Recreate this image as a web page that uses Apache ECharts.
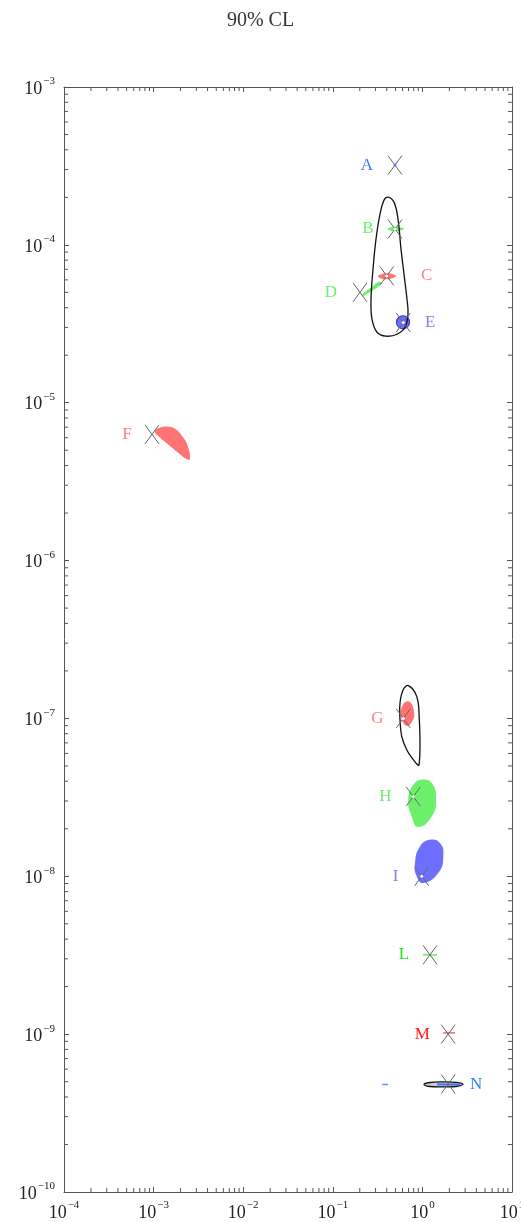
<!DOCTYPE html>
<html>
<head>
<meta charset="utf-8">
<script src="https://cdn.jsdelivr.net/npm/echarts@6/dist/echarts.min.js"></script>
<style>html,body{margin:0;padding:0;background:#fff}#c{width:521px;height:1222px}</style>
</head>
<body>
<div id="c"></div>
<script>
// ---- axis ranges / tick decades ----
const xRange = [1e-4, 10];
const yRange = [1e-10, 1e-3];
const titleText = '90% CL';

// ---- best-fit points (X markers) ----
const pointNames = ['A','B','C','D','E','F','G','H','I','L','M','N'];
const pointX = [0.494, 0.4945, 0.40, 0.201, 0.612, 9.6e-4, 0.612, 0.791, 0.982, 1.216, 1.94, 1.94];
const pointY = [3.2e-4, 1.26e-4, 6.36e-5, 5.0e-5, 3.22e-5, 6.3e-6, 1.0e-7, 3.2e-8, 1.0e-8, 3.18e-9, 1.0e-9, 4.83e-10];

// ---- black contours ----
const contourBE = [[0.4131,2.007e-4],[0.4819,1.865e-4],[0.5342,1.455e-4],[0.5770,9.39e-5],[0.6232,6.52e-5],[0.6731,4.52e-5],[0.6907,3.635e-5],[0.6394,3.006e-5],[0.5206,2.714e-5],[0.3924,2.64e-5],[0.3114,2.795e-5],[0.2738,3.38e-5],[0.2669,4.52e-5],[0.2810,7.01e-5],[0.3035,1.087e-4],[0.3363,1.565e-4],[0.3727,1.921e-4]];
const contourG = [[0.6960,1.614e-7],[0.8638,1.380e-7],[0.9235,9.83e-8],[0.9402,6.65e-8],[0.9235,5.22e-8],[0.9000,5.04e-8],[0.7913,5.48e-8],[0.6680,6.34e-8],[0.5875,7.70e-8],[0.5623,9.83e-8],[0.5623,1.253e-7],[0.6120,1.523e-7]];
const contourN = [[1.042,4.80e-10],[1.216,4.94e-10],[1.698,4.98e-10],[2.371,4.95e-10],[2.839,4.81e-10],[2.371,4.66e-10],[1.698,4.63e-10],[1.216,4.66e-10]];

// ---- filled regions ----
const regionB = [[0.4026,1.258e-4],[0.4462,1.295e-4],[0.4945,1.304e-4],[0.5623,1.295e-4],[0.6232,1.267e-4],[0.5623,1.230e-4],[0.4945,1.222e-4],[0.4462,1.230e-4]];
const regionC = [[0.3195,6.33e-5],[0.3633,6.57e-5],[0.4131,6.61e-5],[0.4697,6.52e-5],[0.5075,6.33e-5],[0.4578,6.15e-5],[0.4026,6.06e-5],[0.3541,6.10e-5]];
const regionD = [[0.2118,4.80e-5],[0.2347,5.09e-5],[0.2738,5.43e-5],[0.3195,5.80e-5],[0.3450,5.80e-5],[0.3363,5.59e-5],[0.2884,5.20e-5],[0.2409,4.90e-5],[0.2173,4.73e-5]];
const regionE = [[0.7178,3.235e-5],[0.6836,3.46e-5],[0.6074,3.556e-5],[0.5396,3.46e-5],[0.5140,3.235e-5],[0.5396,3.024e-5],[0.6074,2.94e-5],[0.6836,3.024e-5]];
const regionF = [[1.036e-3,6.62e-6],[1.340e-3,7.06e-6],[1.733e-3,6.85e-6],[2.146e-3,6.01e-6],[2.439e-3,5.19e-6],[2.548e-3,4.38e-6],[2.299e-3,4.42e-6],[1.970e-3,4.71e-6],[1.524e-3,5.31e-6],[1.178e-3,6.01e-6]];
const regionG = [[0.7086,1.278e-7],[0.8058,1.104e-7],[0.7654,9.54e-8],[0.6561,9.00e-8],[0.5770,1.042e-7],[0.6074,1.223e-7]];
const regionH = [[0.9822,4.09e-8],[1.270,3.90e-8],[1.418,3.06e-8],[1.270,2.39e-8],[0.9000,2.05e-8],[0.7596,2.39e-8],[0.6960,3.06e-8],[0.7913,3.80e-8]];
const regionI = [[1.216,1.703e-8],[1.572,1.623e-8],[1.712,1.335e-8],[1.505,1.048e-8],[1.023,9.07e-9],[0.8638,9.97e-9],[0.8267,1.212e-8],[0.9402,1.545e-8]];

// ---- short horizontal segments [x1, x2, y] ----
const segL = [1.016, 1.455, 3.18e-9];
const segM = [1.698, 2.311, 1.018e-9];
const segN = [1.455, 2.628, 4.80e-10];
const segDash = [0.354, 0.413, 4.80e-10];

// ---- styles ----
const FONT = '"Liberation Serif", "DejaVu Serif", serif';
const RED = '#ff7373', GREEN = '#6cf06c', BLUE = '#6f6fff';
const labelStyle = {
  A:{c:'#3a7bff',dx:-28}, B:{c:'#6cf06c',dx:-27}, C:{c:'#ff8080',dx:40}, D:{c:'#6cf06c',dx:-29},
  E:{c:'#7f7fff',dx:27}, F:{c:'#ff8080',dx:-25}, G:{c:'#ff8080',dx:-26}, H:{c:'#6cf06c',dx:-28},
  I:{c:'#7f7fff',dx:-26}, L:{c:'#22dd22',dx:-26}, M:{c:'#ff1a1a',dx:-26}, N:{c:'#2a7fff',dx:28}
};
const centerDot = {A:'#3a7bff', B:'#ffffff', C:'#ffffff', E:'#ffffff', G:'#ffffff', H:'#ffffff', I:'#ffffff'};

function polySeries(points, style, smooth) {
  return {
    type:'custom', coordinateSystem:'cartesian2d', clip:false, silent:true,
    data: points,
    renderItem: function(params, api){
      if (params.dataIndex !== 0) return null;
      return {type:'polygon', shape:{points: points.map(p => api.coord(p)), smooth: smooth}, style: style};
    }
  };
}
function segSeries(seg, color, w) {
  return {
    type:'custom', coordinateSystem:'cartesian2d', clip:false, silent:true,
    data: [[seg[0], seg[2]], [seg[1], seg[2]]],
    renderItem: function(params, api){
      if (params.dataIndex !== 0) return null;
      const a = api.coord([seg[0], seg[2]]), b = api.coord([seg[1], seg[2]]);
      return {type:'line', shape:{x1:a[0],y1:a[1],x2:b[0],y2:b[1]}, style:{stroke:color, lineWidth:w}};
    }
  };
}

// minor tick values (axis structure)
function minorVals(lo, hi) {
  const out = [];
  for (let d = Math.round(Math.log10(lo)); d < Math.round(Math.log10(hi)); d++) {
    for (let m = 2; m <= 9; m++) out.push(m * Math.pow(10, d));
  }
  return out;
}
const xMinor = minorVals(xRange[0], xRange[1]);
const yMinor = minorVals(yRange[0], yRange[1]);

const tickSeries = {
  type:'custom', coordinateSystem:'cartesian2d', clip:false, silent:true, z:1,
  data: [[1, 1e-6]],
  renderItem: function(params, api){
    const ch = [];
    const L = 4;
    xMinor.forEach(v => {
      const b = api.coord([v, yRange[0]]), t = api.coord([v, yRange[1]]);
      ch.push({type:'line', shape:{x1:b[0],y1:b[1],x2:b[0],y2:b[1]-L}, style:{stroke:'#555',lineWidth:1}});
      ch.push({type:'line', shape:{x1:t[0],y1:t[1],x2:t[0],y2:t[1]+L}, style:{stroke:'#555',lineWidth:1}});
    });
    yMinor.forEach(v => {
      const l = api.coord([xRange[0], v]), r = api.coord([xRange[1], v]);
      ch.push({type:'line', shape:{x1:l[0],y1:l[1],x2:l[0]+L,y2:l[1]}, style:{stroke:'#555',lineWidth:1}});
      ch.push({type:'line', shape:{x1:r[0],y1:r[1],x2:r[0]-L,y2:r[1]}, style:{stroke:'#555',lineWidth:1}});
    });
    return {type:'group', children: ch};
  }
};

const pointData = pointNames.map((n, i) => [pointX[i], pointY[i]]);

const markerSeries = {
  type:'custom', coordinateSystem:'cartesian2d', clip:false, silent:true, z:5,
  data: pointData,
  renderItem: function(params, api){
    const p = api.coord([api.value(0), api.value(1)]);
    const dx = 7, dy = 9.5;
    const st = {stroke:'#666', lineWidth:1};
    const ch = [
      {type:'line', shape:{x1:p[0]-dx,y1:p[1]-dy,x2:p[0]+dx,y2:p[1]+dy}, style:st},
      {type:'line', shape:{x1:p[0]+dx,y1:p[1]-dy,x2:p[0]-dx,y2:p[1]+dy}, style:st}
    ];
    const dc = centerDot[pointNames[params.dataIndex]];
    if (dc) ch.push({type:'circle', shape:{cx:p[0], cy:p[1], r:1.5}, style:{fill:dc}});
    return {type:'group', children: ch};
  }
};

const labelSeries = {
  type:'custom', coordinateSystem:'cartesian2d', clip:false, silent:true, z:6,
  data: pointData,
  renderItem: function(params, api){
    const n = pointNames[params.dataIndex];
    const s = labelStyle[n];
    const p = api.coord([api.value(0), api.value(1)]);
    return {type:'text', x:p[0]+s.dx, y:p[1], style:{text:n, fill:s.c, font:'17px ' + FONT, align:'center', verticalAlign:'middle'}};
  }
};

function expLabel(v) {
  const e = Math.round(Math.log10(v));
  return '{b|10}{s|' + (e < 0 ? '\u2212' + (-e) : e) + '}';
}
const rich = {
  b:{fontFamily:FONT, fontSize:18, color:'#222', lineHeight:22, verticalAlign:'bottom'},
  s:{fontFamily:FONT, fontSize:11, color:'#222', lineHeight:22, verticalAlign:'top', padding:[0,0,0,1]}
};

const axisCommon = {
  type:'log', logBase:10, interval:1,
  axisLine:{show:true, lineStyle:{color:'#555', width:1}},
  axisTick:{show:true, inside:true, length:5, lineStyle:{color:'#555'}},
  splitLine:{show:false}, minorTick:{show:false}, minorSplitLine:{show:false}
};

const option = {
  animation:false,
  backgroundColor:'#fff',
  title:{text:titleText, left:'center', top:6, textStyle:{fontFamily:FONT, fontSize:20, fontWeight:'normal', color:'#333'}},
  grid:{left:64, right:9, top:87, bottom:30, containLabel:false, outerBoundsMode:'none'},
  xAxis:[
    Object.assign({}, axisCommon, {position:'bottom', min:xRange[0], max:xRange[1],
      axisLabel:{show:true, margin:8, formatter:expLabel, rich:rich, showMinLabel:true, showMaxLabel:true, hideOverlap:false}}),
    Object.assign({}, axisCommon, {position:'top', min:xRange[0], max:xRange[1], axisLabel:{show:false}})
  ],
  yAxis:[
    Object.assign({}, axisCommon, {position:'left', min:yRange[0], max:yRange[1],
      axisLabel:{show:true, margin:9, formatter:expLabel, rich:rich, showMinLabel:true, showMaxLabel:true, hideOverlap:false}}),
    Object.assign({}, axisCommon, {position:'right', min:yRange[0], max:yRange[1], axisLabel:{show:false}})
  ],
  series:[
    tickSeries,
    polySeries(regionF, {fill:RED}, 0.4),
    polySeries(regionG, {fill:RED}, 0.5),
    polySeries(regionC, {fill:RED}, 0.4),
    polySeries(regionB, {fill:GREEN}, 0.4),
    polySeries(regionD, {fill:GREEN}, 0.4),
    polySeries(regionH, {fill:GREEN}, 0.5),
    polySeries(regionE, {fill:BLUE, stroke:'#3c3cd8', lineWidth:1.2}, 0.5),
    polySeries(regionI, {fill:BLUE}, 0.5),
    polySeries(contourBE, {fill:'none', stroke:'#111', lineWidth:1.3}, 0.4),
    polySeries(contourG, {fill:'none', stroke:'#111', lineWidth:1.3}, 0.4),
    polySeries(contourN, {fill:'#cfcfcf', stroke:'#111', lineWidth:1.3}, 0.4),
    segSeries(segL, '#66ee66', 1.5),
    segSeries(segM, '#ff6666', 1.5),
    segSeries(segN, '#3377ff', 2),
    segSeries(segDash, '#6699ff', 1.5),
    markerSeries,
    labelSeries
  ]
};
const chart = echarts.init(document.getElementById('c'), null, {renderer:'canvas'});
chart.setOption(option);
</script>
</body>
</html>
